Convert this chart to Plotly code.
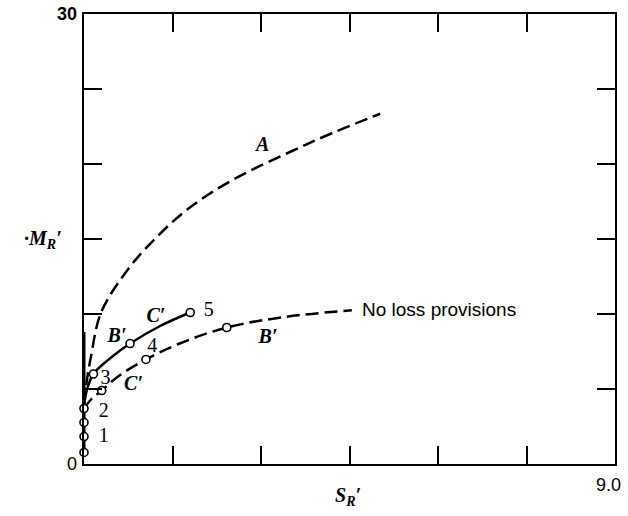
import plotly.graph_objects as go

# Curve A (dashed, upper)
a_x = [0.0, 0.05, 0.12, 0.29, 0.75, 1.2, 1.76, 2.5, 3.49, 4.2, 5.02]
a_y = [4.0, 5.6, 7.2, 10.1, 13.0, 15.0, 17.0, 18.9, 20.8, 22.05, 23.35]

# B'C' curve with loss provisions (solid)
bc_x = [0.0, 0.04, 0.16, 0.46, 0.78, 1.29, 1.8]
bc_y = [3.7, 4.8, 6.0, 7.1, 8.03, 9.2, 10.1]

# No loss provisions curve (dashed, lower)
nl_x = [0.0, 0.12, 0.3, 0.6, 1.05, 1.6, 2.42, 3.4, 4.54]
nl_y = [3.7, 4.3, 4.9, 5.9, 6.97, 8.0, 9.1, 9.8, 10.25]

# Thick segment along the M_R' axis
axis_seg_y = [0.77, 8.8]

# Marked operating points
pt_x = [0.0, 0.0, 0.0, 0.0, 0.16, 0.3, 0.78, 1.05, 1.8, 2.42]
pt_y = [0.77, 1.83, 2.77, 3.7, 6.0, 4.9, 8.03, 6.97, 10.1, 9.1]

# Point numbers
num_text = ["1", "2", "3", "4", "5"]
num_x = [0.25, 0.25, 0.28, 1.07, 2.03]
num_y = [1.83, 3.5, 5.7, 7.8, 10.2]

# Curve letters
let_text = ["A", "B′", "C′", "C′", "B′"]
let_x = [3.03, 0.56, 1.22, 0.84, 3.12]
let_y = [21.2, 8.5, 9.8, 5.3, 8.4]

x_ticks = [1.5, 3.0, 4.5, 6.0, 7.5]
y_ticks = [5, 10, 15, 20, 25]

fig = go.Figure()

fig.add_trace(go.Scatter(x=[0, 0], y=axis_seg_y, mode="lines",
                         line=dict(color="black", width=3), cliponaxis=False))
fig.add_trace(go.Scatter(x=a_x, y=a_y, mode="lines",
                         line=dict(color="black", width=2.5, dash="13px,6px", shape="spline")))
fig.add_trace(go.Scatter(x=nl_x, y=nl_y, mode="lines",
                         line=dict(color="black", width=2.5, dash="13px,6px", shape="spline")))
fig.add_trace(go.Scatter(x=bc_x, y=bc_y, mode="lines",
                         line=dict(color="black", width=2.5, shape="spline")))
fig.add_trace(go.Scatter(x=pt_x, y=pt_y, mode="markers", cliponaxis=False,
                         marker=dict(symbol="circle", size=8, color="white",
                                     line=dict(color="black", width=1.6))))

fig.add_trace(go.Scatter(x=num_x, y=num_y, mode="text", text=num_text,
                         textposition="middle right", cliponaxis=False,
                         textfont=dict(family="Liberation Serif", size=20, color="black")))
fig.add_trace(go.Scatter(x=let_x, y=let_y, mode="text", text=let_text,
                         textposition="middle center", cliponaxis=False,
                         textfont=dict(family="Liberation Serif", size=20, color="black",
                                       style="italic", weight="bold")))

fig.add_annotation(x=4.68, y=10.3, text="No loss provisions", showarrow=False,
                   xanchor="left", yanchor="middle",
                   font=dict(family="Liberation Sans", size=19, color="black"))

# Corner tick labels
fig.add_annotation(x=0, y=30, xref="x", yref="y", text="<b>30</b>", showarrow=False,
                   xanchor="right", yanchor="middle", xshift=-5,
                   font=dict(family="Liberation Sans", size=18, color="black"))
fig.add_annotation(x=0, y=0, xref="x", yref="y", text="0", showarrow=False,
                   xanchor="right", yanchor="middle", xshift=-5,
                   font=dict(family="Liberation Sans", size=18, color="black"))
fig.add_annotation(x=9, y=0, xref="x", yref="y", text="9.0", showarrow=False,
                   xanchor="center", yanchor="top", yshift=-9, xshift=-7,
                   font=dict(family="Liberation Sans", size=18, color="black"))

# Axis titles
fig.add_annotation(x=4.5, y=0, xref="x", yref="y", text="<b><i>S<sub>R</sub>′</i></b>",
                   showarrow=False, xanchor="center", yanchor="top", yshift=-18, xshift=-2,
                   font=dict(family="Liberation Serif", size=20, color="black"))
fig.add_annotation(x=0, y=15, xref="x", yref="y", text="<b><i>·M<sub>R</sub>′</i></b>",
                   showarrow=False, xanchor="right", yanchor="middle", xshift=-20, yshift=0,
                   font=dict(family="Liberation Serif", size=20, color="black"))

axis_common = dict(showgrid=False, zeroline=False, showline=True, linecolor="black",
                   linewidth=2, mirror="ticks", ticks="inside", ticklen=18,
                   tickwidth=1.5, tickcolor="black", showticklabels=False)

fig.update_xaxes(range=[0, 9], tickvals=x_ticks, **axis_common)
fig.update_yaxes(range=[0, 30], tickvals=y_ticks, **axis_common)

fig.update_layout(width=628, height=516, showlegend=False,
                  plot_bgcolor="white", paper_bgcolor="white",
                  margin=dict(l=84, r=13, t=14, b=52))

fig.write_html("out.html")
